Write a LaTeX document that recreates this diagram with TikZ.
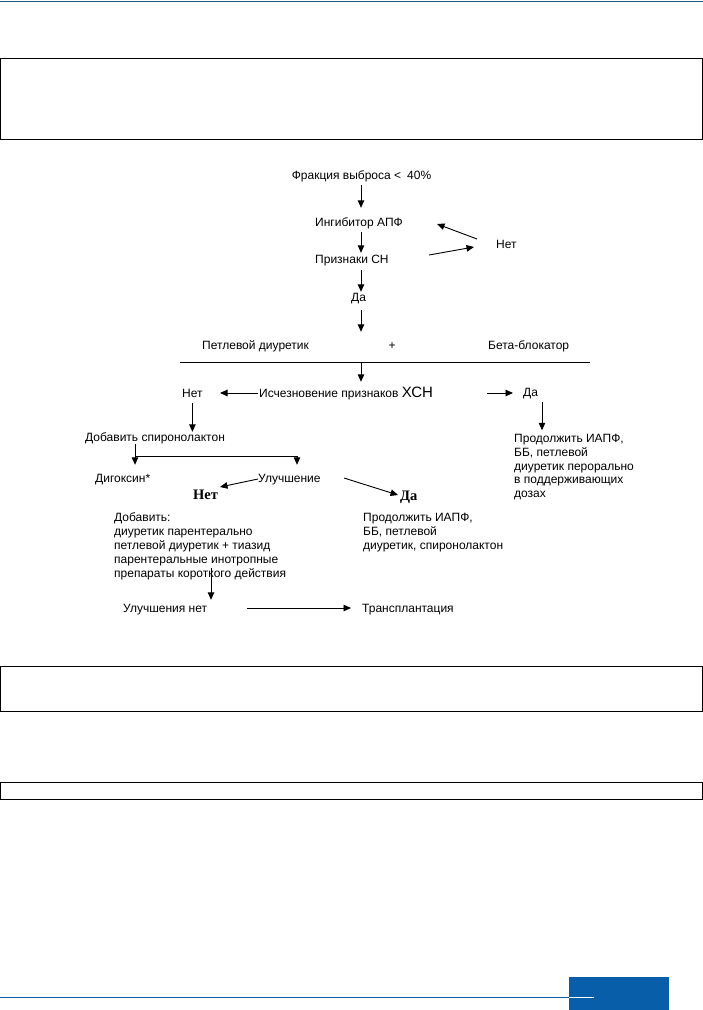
\documentclass[tikz,border=0pt]{standalone}
\usepackage{fontspec}
\setmainfont{Liberation Sans}
\newfontfamily\tnr{Liberation Serif}
\usetikzlibrary{arrows.meta,calc}
\definecolor{hdrblue}{RGB}{30,90,125}
\definecolor{ftrblue}{RGB}{8,94,168}
\begin{document}
\begin{tikzpicture}[x=1pt,y=1pt,
  txt/.style={font=\fontsize{12}{14}\selectfont, inner sep=0pt, text height=9pt, text depth=2.6pt, anchor=base west},
  multi/.style={inner sep=0pt, anchor=base west},
  boldtxt/.style={font=\tnr\bfseries\fontsize{14.5}{16}\selectfont, inner sep=0pt, text height=9.6pt, text depth=0pt, anchor=base west},
  arr/.style={line width=0.9pt, -{Triangle[length=7.5pt,width=6.5pt]}},
  ln/.style={line width=0.9pt},
  frame/.style={line width=0.9pt, draw=black}]
\useasboundingbox (0,0) rectangle (703,-1010);
% page decorations
\draw[hdrblue, line width=1pt] (0,-1.5) -- (703,-1.5);
\draw[frame] (0.5,-58) rectangle (702,-139);
\draw[frame] (0.5,-666) rectangle (702,-711);
\draw[frame] (0.5,-782) rectangle (702,-799);
\draw[ftrblue, line width=1pt] (0,-997.5) -- (569,-997.5);
\fill[ftrblue] (569,-977) rectangle (669,-1010);
\draw[white, line width=1pt] (569,-997.5) -- (594,-997.5);

% nodes
\coordinate (ax) at (361,0);
\node[txt, anchor=base] (fr) at (361.5,-179.5) {Фракция выброса <\hspace{6pt}40\%};
\node[txt] (ing) at (315,-226.5) {Ингибитор АПФ};
\node[txt] (pr) at (315,-263.5) {Признаки СН};
\node[txt] (da1) at (351,-301.5) {Да};
\node[txt] (net1) at (496,-248.5) {Нет};
\node[txt] (pd) at (202,-349.5) {Петлевой диуретик};
\node[txt, anchor=base] (plus) at (392,-349.5) {+};
\node[txt] (bb) at (488,-349.5) {Бета-блокатор};
\coordinate (rl) at (180,-362.5);
\coordinate (rr) at (590,-362.5);
\draw[ln] (rl) -- (rr);
\node[txt] (isch) at (259,-397.5) {Исчезновение признаков {\fontsize{15}{16}\selectfont ХСН}};
\node[txt] (net2) at (182,-397.5) {Нет};
\node[txt] (da2) at (523,-396.5) {Да};
\node[txt] (dsp) at (85,-441) {Добавить спиронолактон};
\node[txt] (dig) at (95,-482) {Дигоксин*};
\node[txt] (ul) at (258,-482) {Улучшение};
\node[boldtxt] (netb) at (193,-499) {Нет};
\node[boldtxt] (dab) at (400,-500) {Да};
\node[multi] (dob) at (114,-521.5) {\fontsize{12}{14}\selectfont\parbox[t]{220pt}{\raggedright Добавить:\\диуретик парентерально\\петлевой диуретик + тиазид\\парентеральные инотропные\\препараты короткого действия}};
\node[multi] (pm) at (363,-521.5) {\fontsize{12}{14}\selectfont\parbox[t]{200pt}{\raggedright Продолжить ИАПФ,\\ББ, петлевой\\диуретик, спиронолактон}};
\node[multi] (pr2) at (514,-442.5) {\fontsize{12}{13.8}\selectfont\parbox[t]{180pt}{\raggedright Продолжить ИАПФ,\\ББ, петлевой\\диуретик перорально\\в поддерживающих\\дозах}};
\node[txt] (uln) at (123,-612.5) {Улучшения нет};
\node[txt] (tr) at (362,-612.5) {Трансплантация};

% connectors
\draw[arr, shorten <=2.9pt, shorten >=9.5pt] (fr.south -| ax) -- (ing.north -| ax);
\draw[arr, shorten <=2.9pt, shorten >=1.5pt] (ing.south -| ax) -- (pr.north -| ax);
\draw[arr, shorten <=3.9pt, shorten >=0.5pt] (pr.south -| ax) -- (da1.north -| ax);
\draw[arr, shorten <=5.9pt, shorten >=8.5pt] (da1.south -| ax) -- (plus.north -| ax);
\draw[arr, shorten >=6.5pt] (rl -| ax) -- (isch.north -| ax);
\draw[arr] ($(net1.base west)+(-19,9.5)$) -- ($(ing.base west)+(122,2.5)$);
\draw[arr] ($(pr.base west)+(114,8.5)$) -- ($(net1.base west)+(-22,1.5)$);
\draw[arr] ($(isch.base west)+(-1,4.5)$) -- ($(net2.base west)+(38,4.5)$);
\draw[arr] ($(da2.base west)+(-36,3.5)$) -- ($(da2.base west)+(-10,3.5)$);
\draw[arr, shorten <=2.9pt] (net2.south) -- (net2.south |- dsp.north);
\coordinate (br1) at ([xshift=50pt]dsp.south west);
\coordinate (br2) at ($(br1)+(0,-12.4)$);
\draw[arr, shorten >=8pt] (br1) -- (br1 |- dig.north);
\draw[arr, shorten >=8pt] (br2) -| ([xshift=39pt]ul.north west);
\draw[arr] ($(ul.base west)+(0,3)$) -- ($(netb.base west)+(27,12)$);
\draw[arr] ($(ul.base west)+(86,4)$) -- ($(dab.base west)+(-2,5)$);
\draw[arr, shorten <=2.9pt, shorten >=3.7pt] ([xshift=19pt]da2.south west) -- ([xshift=19pt]da2.south west |- pr2.north);
\coordinate (dobx) at ($(dob.base west)+(97,-46.5)$);
\draw[arr, shorten >=3.5pt] (dobx) -- (dobx |- uln.north);
\draw[arr] ($(uln.base west)+(124,4.5)$) -- ($(tr.base west)+(-11,4.5)$);
\end{tikzpicture}
\end{document}
